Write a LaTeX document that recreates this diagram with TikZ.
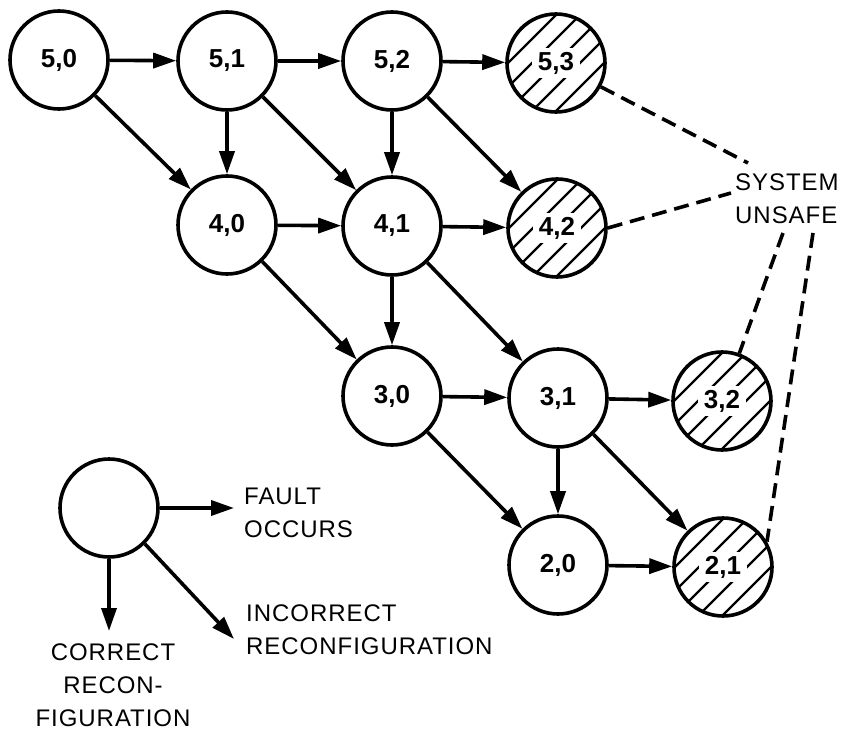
\documentclass[tikz,border=0pt]{standalone}
\usepackage{fontspec}
\setmainfont{Liberation Sans}
\newfontfamily\legendfont[LetterSpace=4]{Liberation Sans}
\usetikzlibrary{arrows.meta}
\begin{document}
\begin{tikzpicture}[x=1pt,y=-1pt,
  state/.style={circle,draw,line width=3.6pt,minimum size=98pt,inner sep=0pt,
    font=\fontsize{26}{26}\selectfont\bfseries},
  unsafe/.style={state,path picture={
     \foreach \k in {-96,-72,...,96}
       \draw[line width=2.3pt] ([shift={(\k-80,80)}]path picture bounding box.center) -- ++(160,-160);
     \fill[white] ([shift={(-24,-15)}]path picture bounding box.center) rectangle ++(48,30);
  }},
  arr/.style={line width=3.6pt,-{Triangle[length=23pt,width=15pt]}},
  unsafeline/.style={line width=3.6pt,dash pattern=on 15pt off 8pt},
  lbl/.style={font=\legendfont\fontsize{24}{33}\selectfont,inner sep=0pt}
]
\useasboundingbox (0,0) rectangle (841,733);

% states
\node[state]  (n50) at (59,60)   {5,0};
\node[state]  (n51) at (227,61)  {5,1};
\node[state]  (n52) at (392,61)  {5,2};
\node[unsafe] (n53) at (556,63)  {5,3};
\node[state]  (n40) at (227,225) {4,0};
\node[state]  (n41) at (392,226) {4,1};
\node[unsafe] (n42) at (557,228) {4,2};
\node[state]  (n30) at (392,396) {3,0};
\node[state]  (n31) at (558,398) {3,1};
\node[unsafe] (n32) at (722,401) {3,2};
\node[state]  (n20) at (558,565) {2,0};
\node[unsafe] (n21) at (723,567) {2,1};

% transitions
\draw[arr] (n50) -- (n51);
\draw[arr] (n51) -- (n52);
\draw[arr] (n52) -- (n53);
\draw[arr] (n50) -- (n40);
\draw[arr] (n51) -- (n40);
\draw[arr] (n51) -- (n41);
\draw[arr] (n52) -- (n41);
\draw[arr] (n52) -- (n42);
\draw[arr] (n40) -- (n41);
\draw[arr] (n41) -- (n42);
\draw[arr] (n40) -- (n30);
\draw[arr] (n41) -- (n30);
\draw[arr] (n41) -- (n31);
\draw[arr] (n30) -- (n31);
\draw[arr] (n31) -- (n32);
\draw[arr] (n30) -- (n20);
\draw[arr] (n31) -- (n20);
\draw[arr] (n31) -- (n21);
\draw[arr] (n20) -- (n21);

% system unsafe
\node[lbl,align=left,anchor=west] (sysun) at (735,199) {SYSTEM\\UNSAFE};
\coordinate (s1) at (748,163);
\coordinate (s2) at (731,193);
\coordinate (u1) at (783,233);
\coordinate (u2) at (813,233);
\draw[unsafeline] (n53.-28) -- (s1);
\draw[unsafeline] (n42.east) -- (s2);
\draw[unsafeline] (u1) -- (n32);
\draw[unsafeline] (u2) -- (n21.30);

% legend
\node[state] (leg) at (109,508) {};
\coordinate (fo) at (234,508);
\coordinate (cr) at (109,631);
\coordinate (inc) at (234,639);
\draw[arr] (leg.east) -- (fo);
\draw[arr] (leg.south) -- (cr);
\draw[arr] (leg.-45) -- (inc);
\node[lbl,align=left,anchor=west] (fault) at (244,513) {FAULT\\OCCURS};
\node[lbl,align=left,anchor=west] (incorr) at (246,630) {INCORRECT\\RECONFIGURATION};
\node[lbl,align=center] (corr) at (113,685) {CORRECT\\RECON-\\FIGURATION};
\end{tikzpicture}
\end{document}
